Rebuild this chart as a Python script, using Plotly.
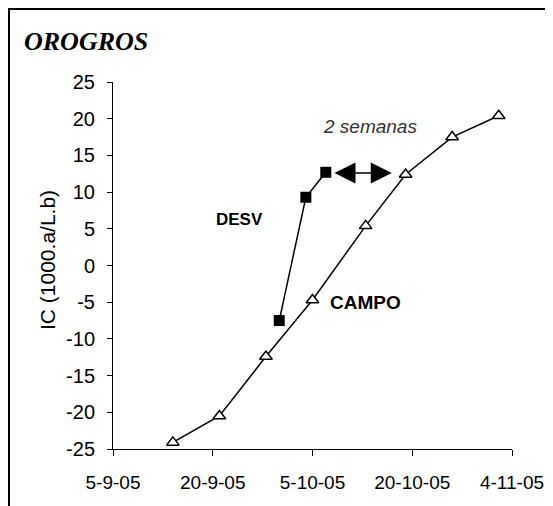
import plotly.graph_objects as go

# CAMPO series (open triangles)
campo_dates = ["2005-09-14", "2005-09-21", "2005-09-28", "2005-10-05",
               "2005-10-13", "2005-10-19", "2005-10-26", "2005-11-02"]
campo_ic = [-24.1, -20.5, -12.4, -4.7, 5.4, 12.4, 17.5, 20.4]

# DESV series (filled squares)
desv_dates = ["2005-09-30", "2005-10-04", "2005-10-07"]
desv_ic = [-7.5, 9.3, 12.7]

# axes
x_tick_vals = ["2005-09-05", "2005-09-20", "2005-10-05", "2005-10-20", "2005-11-04"]
x_tick_text = ["5-9-05", "20-9-05", "5-10-05", "20-10-05", "4-11-05"]
y_tick_vals = [-25, -20, -15, -10, -5, 0, 5, 10, 15, 20, 25]
y_tick_text = ["-25", "-20", "-15", "-10", "-5", "0", "5", "10", "15", "20", "25"]

# annotation anchors
arrow_start = "2005-10-08 02:00"
arrow_end = "2005-10-16 22:00"
arrow_y = 12.6

FONT = "Arial, Liberation Sans, sans-serif"

OFF = 8  # page body margin
WIN_W, WIN_H = 553, 506
W, H = WIN_W - OFF, WIN_H - OFF
# plot area in window pixels
PL, PR, PT, PB = 113, 512, 82, 449
L, R, T, B = PL - OFF, WIN_W - PR, PT - OFF, WIN_H - PB
PW, PH = PR - PL, PB - PT


def px(x):
    return (x - PL) / PW


def py(y):
    return (PB - y) / PH


fig = go.Figure()

fig.add_trace(go.Scatter(
    x=campo_dates, y=campo_ic, mode="lines+markers", name="CAMPO",
    line=dict(color="black", width=1.5),
    marker=dict(symbol="triangle-up", size=11, color="white",
                line=dict(color="black", width=1.5)),
    cliponaxis=False,
))
fig.add_trace(go.Scatter(
    x=desv_dates, y=desv_ic, mode="lines+markers", name="DESV",
    line=dict(color="black", width=1.5),
    marker=dict(symbol="square", size=11, color="black",
                line=dict(color="black", width=0)),
    cliponaxis=False,
))

annotations = [
    dict(text="<b><i>OROGROS</i></b>", xref="paper", yref="paper",
         x=px(22), y=py(41), xanchor="left", yanchor="middle", showarrow=False,
         font=dict(family="Times New Roman, Liberation Serif, serif", size=26, color="black")),
    dict(text="IC (1000.a/L.b)", xref="paper", yref="paper",
         x=px(48), y=py(260), xanchor="center", yanchor="middle", showarrow=False,
         textangle=-90, font=dict(family=FONT, size=21, color="black")),
    dict(text="<i>2 semanas</i>", x="2005-10-13 14:00", y=18.9, xref="x", yref="y",
         showarrow=False, xanchor="center", yanchor="middle",
         font=dict(family=FONT, size=19, color="#333")),
    dict(text="<b>DESV</b>", x="2005-09-24 02:00", y=6.2, xref="x", yref="y",
         showarrow=False, xanchor="center", yanchor="middle",
         font=dict(family=FONT, size=17, color="black")),
    dict(text="<b>CAMPO</b>", x="2005-10-12 22:00", y=-5.1, xref="x", yref="y",
         showarrow=False, xanchor="center", yanchor="middle",
         font=dict(family=FONT, size=19, color="black")),
    dict(text="", x=arrow_end, y=arrow_y, ax=arrow_start, ay=arrow_y,
         xref="x", yref="y", axref="x", ayref="y", showarrow=True,
         arrowhead=2, startarrowhead=2, arrowside="end+start",
         arrowsize=2.8, startarrowsize=2.8, arrowwidth=1.5, arrowcolor="black"),
]

fig.update_layout(
    width=W, height=H,
    margin=dict(l=L, r=R, t=T, b=B, pad=0, autoexpand=False),
    paper_bgcolor="white", plot_bgcolor="white",
    showlegend=False,
    annotations=annotations,
    shapes=[dict(type="rect", xref="paper", yref="paper",
                 x0=px(9), x1=px(552), y0=py(560), y1=py(9),
                 line=dict(color="black", width=2), fillcolor="rgba(0,0,0,0)",
                 layer="below")],
)

fig.update_xaxes(
    type="date", range=["2005-09-05", "2005-11-04"],
    tickmode="array", tickvals=x_tick_vals, ticktext=x_tick_text,
    showline=True, linecolor="black", linewidth=1,
    ticks="outside", ticklen=6, tickcolor="black", tickwidth=1,
    showgrid=False, zeroline=False,
    tickfont=dict(family=FONT, size=19, color="black"),
    ticklabelstandoff=10,
)
fig.update_yaxes(
    range=[-25, 25], tickmode="array", tickvals=y_tick_vals, ticktext=y_tick_text,
    showline=True, linecolor="black", linewidth=1,
    ticks="outside", ticklen=5, tickcolor="black", tickwidth=1,
    showgrid=False, zeroline=False,
    tickfont=dict(family=FONT, size=20, color="black"),
    ticklabelstandoff=8,
)

fig.write_html("out.html")
